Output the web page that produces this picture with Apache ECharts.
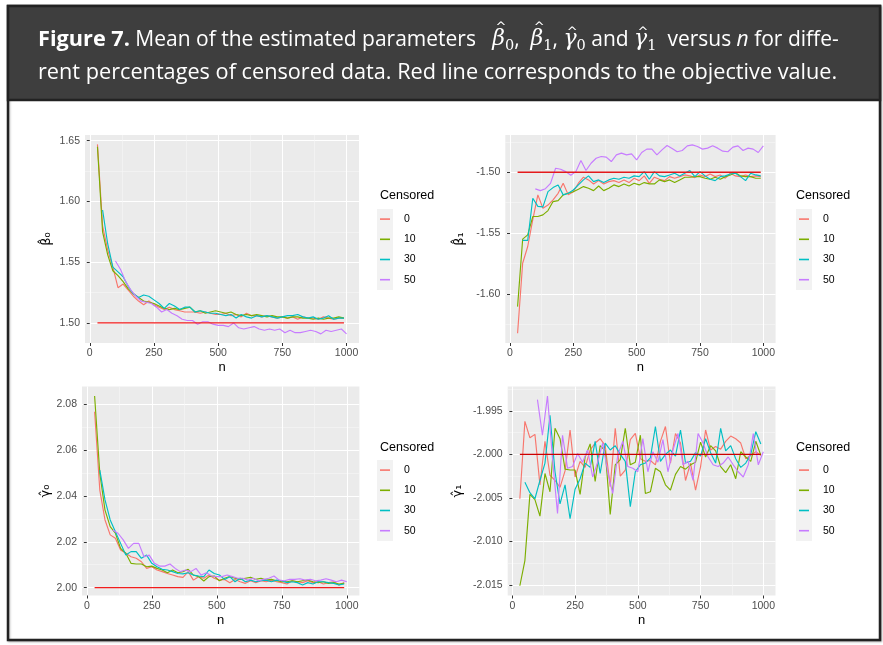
<!DOCTYPE html>
<html><head><meta charset="utf-8">
<script src="https://cdn.jsdelivr.net/npm/echarts@6/dist/echarts.min.js"></script>
<style>html,body{margin:0;padding:0;background:#fff}#c{width:883px;height:645px}</style>
</head><body><div id="c"></div>
<script>
// sample sizes
const nA = [30,50,70,90,110,130,150,170,190,210,230,250,270,290,310,330,350,370,390,410,430,450,470,490,510,530,550,570,590,610,630,650,670,690,710,730,750,770,790,810,830,850,870,890,910,930,950,970,990];
const nC = [50,70,90,110,130,150,170,190,210,230,250,270,290,310,330,350,370,390,410,430,450,470,490,510,530,550,570,590,610,630,650,670,690,710,730,750,770,790,810,830,850,870,890,910,930,950,970,990];
const nP = [100,120,140,160,180,200,220,240,260,280,300,320,340,360,380,400,420,440,460,480,500,520,540,560,580,600,620,640,660,680,700,720,740,760,780,800,820,840,860,880,900,920,940,960,980,1000];
const censored = ['0','10','30','50'];
const colors = ['#F8766D','#7CAE00','#00BFC4','#C77CFF'];

// beta0 hat
const b0_0  = [1.647,1.580,1.560,1.546,1.529,1.532,1.527,1.522,1.518,1.515,1.518,1.515,1.513,1.511,1.513,1.511,1.510,1.509,1.509,1.509,1.508,1.509,1.508,1.507,1.507,1.508,1.506,1.507,1.505,1.508,1.506,1.506,1.505,1.506,1.505,1.504,1.505,1.504,1.505,1.503,1.505,1.504,1.504,1.503,1.505,1.504,1.503,1.504,1.504];
const b0_10 = [1.645,1.575,1.556,1.543,1.539,1.534,1.528,1.524,1.521,1.518,1.517,1.516,1.514,1.512,1.511,1.512,1.511,1.512,1.513,1.509,1.510,1.508,1.509,1.510,1.509,1.508,1.509,1.507,1.506,1.507,1.506,1.507,1.506,1.505,1.506,1.505,1.505,1.504,1.505,1.505,1.504,1.504,1.503,1.504,1.503,1.504,1.504,1.505,1.504];
const b0_30 = [1.593,1.565,1.546,1.542,1.538,1.530,1.524,1.521,1.523,1.522,1.519,1.516,1.512,1.516,1.514,1.511,1.513,1.513,1.509,1.510,1.509,1.508,1.508,1.507,1.506,1.507,1.504,1.507,1.505,1.504,1.506,1.505,1.506,1.505,1.504,1.505,1.506,1.506,1.507,1.505,1.504,1.505,1.503,1.504,1.506,1.503,1.504,1.504];
const b0_50 = [1.551,1.544,1.534,1.527,1.522,1.518,1.517,1.516,1.513,1.509,1.511,1.508,1.506,1.503,1.502,1.502,1.499,1.501,1.501,1.499,1.498,1.498,1.497,1.500,1.496,1.495,1.496,1.497,1.495,1.494,1.495,1.494,1.495,1.492,1.494,1.492,1.492,1.493,1.494,1.493,1.491,1.494,1.493,1.494,1.495,1.491];

// beta1 hat
const b1_0  = [-1.6323,-1.5748,-1.5610,-1.5390,-1.5186,-1.5296,-1.5270,-1.5227,-1.5173,-1.5090,-1.5186,-1.5160,-1.5090,-1.5041,-1.5063,-1.5096,-1.5069,-1.5096,-1.5077,-1.5069,-1.5085,-1.5063,-1.5085,-1.5049,-1.5069,-1.5030,-1.5091,-1.5041,-1.5058,-1.5069,-1.5036,-1.5049,-1.5036,-1.5022,-1.5030,-1.5044,-1.5022,-1.5036,-1.5014,-1.5036,-1.5022,-1.5049,-1.5008,-1.5030,-1.5036,-1.5022,-1.5036,-1.5030,-1.5036];
const b1_10 = [-1.6104,-1.5550,-1.5515,-1.5364,-1.5364,-1.5350,-1.5315,-1.5241,-1.5233,-1.5186,-1.5173,-1.5160,-1.5140,-1.5118,-1.5132,-1.5151,-1.5113,-1.5151,-1.5132,-1.5104,-1.5118,-1.5096,-1.5113,-1.5091,-1.5104,-1.5085,-1.5096,-1.5096,-1.5063,-1.5077,-1.5063,-1.5085,-1.5063,-1.5041,-1.5041,-1.5036,-1.5036,-1.5049,-1.5058,-1.5041,-1.5058,-1.5036,-1.5022,-1.5003,-1.5030,-1.5036,-1.5036,-1.5049,-1.5049];
const b1_30 = [-1.5560,-1.5560,-1.5214,-1.5280,-1.5285,-1.5159,-1.5126,-1.5104,-1.5186,-1.5173,-1.5146,-1.5104,-1.5063,-1.5030,-1.5077,-1.5063,-1.5085,-1.5063,-1.5049,-1.5058,-1.5041,-1.5049,-1.5030,-1.5036,-1.4995,-1.5058,-1.4995,-1.5030,-1.5036,-1.5022,-1.5008,-1.5030,-1.5008,-1.4986,-1.5036,-1.4995,-1.5030,-1.5058,-1.5069,-1.5036,-1.5030,-1.5014,-1.5008,-1.5036,-1.5069,-1.5008,-1.5022,-1.5030];
const b1_50 = [-1.5137,-1.5151,-1.5135,-1.5091,-1.4967,-1.4975,-1.4995,-1.5025,-1.4995,-1.4904,-1.4986,-1.4926,-1.4885,-1.4871,-1.4876,-1.4912,-1.4857,-1.4843,-1.4857,-1.4849,-1.4898,-1.4838,-1.4810,-1.4810,-1.4857,-1.4816,-1.4780,-1.4805,-1.4832,-1.4821,-1.4783,-1.4775,-1.4788,-1.4810,-1.4802,-1.4783,-1.4802,-1.4827,-1.4832,-1.4794,-1.4783,-1.4821,-1.4802,-1.4810,-1.4838,-1.4783];

// gamma0 hat
const g0_0  = [2.0766,2.0425,2.0295,2.0230,2.0215,2.0164,2.0150,2.0135,2.0128,2.0113,2.0084,2.0091,2.0077,2.0070,2.0062,2.0055,2.0048,2.0045,2.0070,2.0033,2.0048,2.0041,2.0055,2.0041,2.0033,2.0036,2.0022,2.0036,2.0026,2.0019,2.0030,2.0022,2.0030,2.0026,2.0033,2.0026,2.0022,2.0016,2.0030,2.0026,2.0022,2.0030,2.0022,2.0026,2.0016,2.0022,2.0026,2.0012,2.0022];
const g0_10 = [2.0835,2.0498,2.0338,2.0266,2.0237,2.0171,2.0150,2.0106,2.0103,2.0103,2.0091,2.0094,2.0084,2.0077,2.0065,2.0077,2.0065,2.0070,2.0080,2.0055,2.0048,2.0029,2.0048,2.0051,2.0030,2.0041,2.0048,2.0041,2.0036,2.0041,2.0045,2.0036,2.0041,2.0033,2.0036,2.0030,2.0026,2.0026,2.0030,2.0026,2.0030,2.0033,2.0026,2.0022,2.0026,2.0019,2.0022,2.0016,2.0019];
const g0_30 = [2.0512,2.0382,2.0295,2.0244,2.0193,2.0142,2.0157,2.0157,2.0128,2.0142,2.0106,2.0091,2.0080,2.0077,2.0070,2.0062,2.0060,2.0065,2.0055,2.0051,2.0048,2.0077,2.0062,2.0055,2.0036,2.0048,2.0026,2.0041,2.0026,2.0033,2.0026,2.0030,2.0033,2.0026,2.0033,2.0030,2.0022,2.0026,2.0022,2.0012,2.0022,2.0016,2.0026,2.0026,2.0022,2.0019,2.0012,2.0016];
const g0_50 = [2.0251,2.0237,2.0208,2.0171,2.0193,2.0193,2.0135,2.0142,2.0106,2.0094,2.0094,2.0103,2.0084,2.0070,2.0077,2.0070,2.0084,2.0055,2.0065,2.0051,2.0048,2.0048,2.0055,2.0048,2.0041,2.0041,2.0033,2.0041,2.0030,2.0036,2.0041,2.0051,2.0033,2.0030,2.0036,2.0036,2.0039,2.0033,2.0036,2.0030,2.0033,2.0039,2.0033,2.0026,2.0033,2.0026];

// gamma1 hat
const g1_0  = [-2.0051,-1.9962,-1.9981,-1.9977,-2.0035,-1.9985,-2.0024,-2.0030,-2.0038,-2.0019,-1.9972,-2.0026,-2.0008,-2.0015,-1.9995,-1.9987,-1.9982,-1.9990,-2.0037,-1.9970,-2.0025,-2.0018,-1.9983,-1.9976,-2.0005,-2.0008,-2.0007,-2.0012,-1.9985,-1.9968,-2.0010,-1.9976,-1.9987,-2.0030,-2.0010,-2.0041,-2.0014,-1.9972,-1.9995,-1.9991,-1.9994,-1.9985,-1.9979,-1.9982,-1.9987,-2.0005,-2.0001,-1.9997,-2.0001];
const g1_10 = [-2.0151,-2.0122,-2.0046,-2.0052,-2.0071,-2.0022,-2.0043,-1.9970,-1.9982,-2.0017,-2.0018,-2.0018,-2.0046,-2.0003,-1.9988,-2.0031,-1.9990,-1.9996,-2.0069,-2.0012,-2.0006,-1.9970,-2.0012,-2.0009,-1.9978,-2.0045,-2.0043,-2.0016,-2.0020,-2.0035,-2.0041,-2.0023,-2.0014,-2.0017,-2.0012,-2.0009,-1.9986,-2.0003,-1.9990,-1.9996,-2.0014,-2.0021,-2.0012,-2.0028,-1.9997,-2.0003,-2.0008,-1.9985,-2.0001];
const g1_30 = [-2.0032,-2.0044,-2.0051,-2.0030,-2.0010,-1.9955,-2.0020,-2.0057,-2.0035,-2.0074,-2.0040,-2.0028,-2.0010,-2.0015,-1.9985,-2.0022,-1.9987,-1.9995,-1.9990,-2.0000,-2.0008,-2.0060,-2.0020,-2.0012,-2.0010,-2.0004,-1.9968,-2.0008,-2.0000,-1.9995,-2.0002,-1.9972,-2.0010,-2.0008,-1.9998,-2.0002,-1.9982,-1.9998,-2.0010,-1.9970,-1.9996,-1.9990,-2.0005,-2.0015,-2.0010,-2.0000,-1.9974,-1.9988];
const g1_50 = [-1.9937,-1.9978,-1.9933,-2.0005,-2.0068,-1.9978,-2.0016,-2.0014,-1.9999,-2.0009,-1.9995,-2.0026,-2.0009,-1.9987,-2.0020,-2.0045,-2.0001,-1.9985,-2.0014,-2.0016,-2.0020,-1.9982,-2.0020,-1.9997,-2.0009,-1.9983,-2.0020,-1.9995,-1.9976,-2.0012,-2.0008,-2.0030,-1.9976,-1.9987,-2.0003,-2.0012,-2.0014,-2.0010,-2.0003,-2.0012,-2.0020,-2.0026,-2.0012,-1.9976,-2.0012,-1.9997];

// objective (true) values
const objective = [1.5, -1.5, 2.0, -2.0];

// ticks
const xTicks = [0, 250, 500, 750, 1000];
const xMinor = [125, 375, 625, 875];
const yTicksB0 = [1.50, 1.55, 1.60, 1.65];   const yMinorB0 = [1.525, 1.575, 1.625];
const yTicksB1 = [-1.60, -1.55, -1.50];      const yMinorB1 = [-1.625, -1.575, -1.525, -1.475];
const yTicksG0 = [2.00, 2.02, 2.04, 2.06, 2.08]; const yMinorG0 = [2.01, 2.03, 2.05, 2.07];
const yTicksG1 = [-2.015, -2.010, -2.005, -2.000, -1.995]; const yMinorG1 = [-2.0125, -2.0075, -2.0025, -1.9975, -1.9925];

const xsBy = [nA, nA, nC, nP];
const FONT = 'Liberation Sans, Arial, sans-serif';

const panels = [
  {grid:{left:85, top:135, width:274, height:208}, yMin:1.4835, yMax:1.6547, yTicks:yTicksB0, yMinor:yMinorB0, dec:2,
   yName:'β̂₀', nameGap:32, data:[b0_0,b0_10,b0_30,b0_50], obj:objective[0], objColor:'#F21D1D'},
  {grid:{left:505.3, top:135, width:270.3, height:208}, yMin:-1.6403, yMax:-1.4694, yTicks:yTicksB1, yMinor:yMinorB1, dec:2,
   yName:'β̂₁', nameGap:39, data:[b1_0,b1_10,b1_30,b1_50], obj:objective[1], objColor:'#E41A1C'},
  {grid:{left:82, top:386.5, width:277.4, height:209}, yMin:1.9966, yMax:2.0876, yTicks:yTicksG0, yMinor:yMinorG0, dec:2,
   yName:'γ̂₀', nameGap:30, data:[g0_0,g0_10,g0_30,g0_50], obj:objective[2], objColor:'#F21D1D'},
  {grid:{left:507.7, top:386.5, width:267.8, height:209}, yMin:-2.01622, yMax:-1.99220, yTicks:yTicksG1, yMinor:yMinorG1, dec:3,
   yName:'γ̂₁', nameGap:44, data:[g1_0,g1_10,g1_30,g1_50], obj:objective[3], objColor:'#CC0000'}
];

const grids = [], xAxes = [], yAxes = [], series = [];
panels.forEach((p, i) => {
  grids.push(Object.assign({show:true, backgroundColor:'#EBEBEB', borderWidth:0, containLabel:false}, p.grid));
  xAxes.push({type:'value', gridIndex:i, min:-18.5, max:1048.5,
    axisLine:{show:false},
    axisTick:{show:true, length:3, lineStyle:{color:'#333', width:1}, customValues:xTicks},
    axisLabel:{customValues:xTicks, formatter:v=>String(v), color:'#4D4D4D', fontSize:10.5, fontFamily:FONT, margin:5},
    splitLine:{show:true, lineStyle:{color:'#FFFFFF', width:1.1}},
    name:'n', nameLocation:'middle', nameGap:18, nameTextStyle:{color:'#000', fontSize:13, fontFamily:FONT}});
  xAxes.push({type:'value', gridIndex:i, min:-18.5, max:1048.5, position:'bottom',
    axisLine:{show:false}, axisTick:{show:false, customValues:xMinor}, axisLabel:{show:false, customValues:xMinor},
    splitLine:{show:true, lineStyle:{color:'#F7F7F7', width:0.6}}});
  yAxes.push({type:'value', gridIndex:i, min:p.yMin, max:p.yMax,
    axisLine:{show:false},
    axisTick:{show:true, length:3, lineStyle:{color:'#333', width:1}, customValues:p.yTicks},
    axisLabel:{customValues:p.yTicks, formatter:v=>Number(v).toFixed(p.dec), color:'#4D4D4D', fontSize:10.5, fontFamily:FONT, margin:5},
    splitLine:{show:true, lineStyle:{color:'#FFFFFF', width:1.1}},
    name:p.yName, nameLocation:'middle', nameRotate:90, nameGap:p.nameGap,
    nameTextStyle:{color:'#000', fontSize:13, fontFamily:'DejaVu Sans, sans-serif'}});
  yAxes.push({type:'value', gridIndex:i, min:p.yMin, max:p.yMax, position:'left',
    axisLine:{show:false}, axisTick:{show:false, customValues:p.yMinor}, axisLabel:{show:false, customValues:p.yMinor},
    splitLine:{show:true, lineStyle:{color:'#F7F7F7', width:0.6}}});

  p.data.forEach((vals, k) => {
    const xs = xsBy[k];
    series.push({type:'line', name:censored[k], xAxisIndex:2*i, yAxisIndex:2*i,
      data: vals.map((v, j) => [xs[j], v]),
      showSymbol:false, symbol:'none', color:colors[k],
      lineStyle:{width:1.15, color:colors[k]}, z:2, silent:true});
  });
  series.push({type:'line', name:'objective', xAxisIndex:2*i, yAxisIndex:2*i,
    data:[[nA[0], p.obj], [nA[nA.length-1], p.obj]],
    showSymbol:false, symbol:'none', color:p.objColor, lineStyle:{width:1.3, color:p.objColor}, z:3, silent:true});
});

function legendAt(left, top) {
  return {show:true, orient:'vertical', left:left, top:top, padding:0, itemGap:0,
    itemWidth:10, itemHeight:1.6, icon:'rect', selectedMode:false, data:censored,
    formatter: name => '{p|' + name + '}',
    textStyle:{color:'#000', fontSize:10.5, fontFamily:FONT, lineHeight:20.2,
      rich:{p:{fontSize:10.5, fontFamily:FONT, color:'#000', lineHeight:20.2, padding:[0,0,0,9]}}}};
}
const legends = [legendAt(380, 209), legendAt(799, 209), legendAt(380, 460), legendAt(799, 460)];

function keyBg(x, y) {
  return {type:'rect', shape:{x:x, y:y, width:16, height:81}, style:{fill:'#F2F2F2'}, z:-1, silent:true};
}
function legTitle(x, y) {
  return {type:'text', x:x, y:y, style:{text:'Censored', fill:'#000', font:'12.5px ' + FONT, verticalAlign:'middle'}, silent:true};
}

// ---- caption (header) built from measured text pieces ----
const white = '#FFFFFF';
const SANS = '"Open Sans", "Noto Sans", sans-serif';
const SERIF = '"DejaVu Serif", serif';
const ST = {
  b:{w:'bold', s:'normal', size:21.7, fam:SANS},
  r:{w:'normal', s:'normal', size:21.0, fam:SANS},
  r2:{w:'normal', s:'normal', size:21.7, fam:SANS},
  i:{w:'normal', s:'italic', size:21.0, fam:SANS},
  m:{w:'normal', s:'italic', size:22, fam:SERIF},
  sub:{w:'normal', s:'normal', size:14.5, fam:SERIF}
};
const fontOf = st => st.s + ' ' + st.w + ' ' + st.size + 'px ' + st.fam;
const mctx = document.createElement('canvas').getContext('2d');
const measure = (st, t) => { mctx.font = fontOf(st); return mctx.measureText(t).width; };

const captionLine1 = [
  ['b','Figure 7.'], ['r',' Mean of the estimated parameters   '],
  ['m','β',1], ['sub','0'], ['r',',  '], ['m','β',1], ['sub','1'], ['r',', '],
  ['m','γ',1], ['sub','0'], ['r',' and '], ['m','γ',1], ['sub','1'],
  ['r','  versus '], ['i','n'], ['r',' for diffe-']
];
const captionLine2 = 'rent percentages of censored data. Red line corresponds to the objective value.';

const BASE1 = 46, BASE2 = 79;
const capEls = [];
let cx = 38;
captionLine1.forEach(([k, t, hat]) => {
  const st = ST[k];
  const w = measure(st, t);
  let base = BASE1 + (k === 'sub' ? 4.5 : 0);
  const cy = base - 0.3 * st.size;
  capEls.push({type:'text', x:cx, y:cy, z:5, silent:true,
    style:{text:t, font:fontOf(st), fill:white, verticalAlign:'middle', align:'left'}});
  if (hat) {
    const hy = (t === 'β') ? 27.5 : 32.5;
    capEls.push({type:'text', x:cx + w / 2 + 2.2, y:hy, z:5, silent:true,
      style:{text:'^', font:'normal normal 13px "DejaVu Sans", sans-serif', fill:white, verticalAlign:'middle', align:'center'}});
  }
  cx += w;
});
capEls.push({type:'text', x:38, y:BASE2 - 0.3 * ST.r2.size, z:5, silent:true,
  style:{text:captionLine2, font:fontOf(ST.r2), fill:white, verticalAlign:'middle', align:'left'}});

const graphic = [
  {type:'rect', shape:{x:8, y:6, width:872, height:634}, style:{fill:'#FFFFFF', stroke:'#222222', lineWidth:2.5, shadowBlur:2, shadowColor:'rgba(0,0,0,0.25)', shadowOffsetX:1, shadowOffsetY:1}, z:-10, silent:true},
  {type:'rect', shape:{x:8, y:6, width:872, height:94}, style:{fill:'#3E3E3E', stroke:'#222222', lineWidth:2.5}, z:-9, silent:true},
  ...capEls,
  keyBg(377, 209), keyBg(796, 209), keyBg(377, 460), keyBg(796, 460),
  legTitle(380, 196), legTitle(796, 196), legTitle(380, 448), legTitle(796, 448)
];

const chart = echarts.init(document.getElementById('c'), null, {renderer:'canvas'});
chart.setOption({
  animation:false,
  backgroundColor:'#FFFFFF',
  grid:grids, xAxis:xAxes, yAxis:yAxes, series:series,
  legend:legends, graphic:graphic
});
</script></body></html>
